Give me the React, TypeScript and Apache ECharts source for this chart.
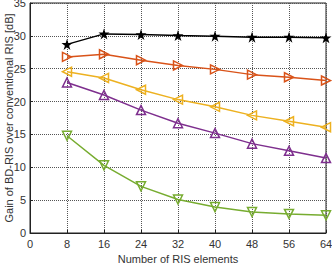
import React, { useEffect, useRef } from "react";
import * as echarts from "echarts";

const xTicks = [8, 16, 24, 32, 40, 48, 56, 64];
const starSeries = [28.7, 30.3, 30.2, 30.05, 29.95, 29.8, 29.8, 29.7];
const rightTriSeries = [26.8, 27.2, 26.3, 25.5, 24.9, 24.1, 23.7, 23.2];
const leftTriSeries = [24.55, 23.6, 21.8, 20.3, 19.2, 17.9, 17.0, 16.1];
const upTriSeries = [22.9, 21.0, 18.7, 16.7, 15.2, 13.6, 12.5, 11.4];
const downTriSeries = [14.8, 10.3, 7.1, 5.1, 3.95, 3.2, 2.9, 2.7];

const STAR = "path://M50,0 L61.8,35.5 L100,35.5 L69.1,57.4 L80.9,93.3 L50,71.3 L19.1,93.3 L30.9,57.4 L0,35.5 L38.2,35.5 Z";

const font = "Liberation Sans";

export default function App() {
  const ref = useRef<HTMLDivElement>(null);
  useEffect(() => {
    const chart = echarts.init(ref.current!, null, { renderer: "svg" });
    const mk = (
      name: string,
      vals: number[],
      color: string,
      symbol: string,
      rotate: number,
      filled: boolean,
      size: number
    ) => ({
      name,
      type: "line",
      data: xTicks.map((x, i) => [x, vals[i]]),
      symbol,
      symbolSize: size,
      symbolRotate: rotate,
      showAllSymbol: true,
      lineStyle: { color, width: 1.5 },
      itemStyle: {
        color: filled ? color : "rgba(255,255,255,0)",
        borderColor: color,
        borderWidth: filled ? 0 : 1.5,
      },
      z: 3,
    });
    chart.setOption({
      animation: false,
      grid: {
        left: 30,
        right: 6,
        top: 3,
        bottom: 33,
        show: true,
        borderColor: "#222",
        borderWidth: 1,
        containLabel: false,
        outerBoundsMode: "none",
      },
      xAxis: {
        type: "value",
        min: 0,
        max: 64,
        interval: 8,
        name: "Number of RIS elements",
        nameLocation: "middle",
        nameGap: 20,
        nameMoveOverlap: false,
        nameTextStyle: { fontFamily: font, fontSize: 11, color: "#333" },
        axisLine: { show: true, lineStyle: { color: "#222" } },
        axisTick: { show: true, inside: true, length: 3, lineStyle: { color: "#222" } },
        axisLabel: { fontFamily: font, fontSize: 11, color: "#333", margin: 5 },
        splitLine: { show: true, lineStyle: { color: "#555", type: [1, 1], width: 1 } },
      },
      yAxis: {
        type: "value",
        min: 0,
        max: 35,
        interval: 5,
        name: "Gain of BD-RIS over conventional RIS [dB]",
        nameLocation: "middle",
        nameGap: 16,
        nameMoveOverlap: false,
        nameTextStyle: { fontFamily: font, fontSize: 11, color: "#333" },
        axisLine: { show: true, lineStyle: { color: "#222" } },
        axisTick: { show: true, inside: true, length: 3, lineStyle: { color: "#222" } },
        axisLabel: { fontFamily: font, fontSize: 11, color: "#333", margin: 4 },
        splitLine: { show: true, lineStyle: { color: "#555", type: [1, 1], width: 1 } },
      },
      series: [
        mk("star", starSeries, "#000000", STAR, 0, true, 11),
        mk("right", rightTriSeries, "#D95319", "triangle", -90, false, 9),
        mk("left", leftTriSeries, "#EDB120", "triangle", 90, false, 9),
        mk("up", upTriSeries, "#7E2F8E", "triangle", 0, false, 9),
        mk("down", downTriSeries, "#77AC30", "triangle", 180, false, 9),
      ],
    });
    return () => chart.dispose();
  }, []);
  return (
    <div style={{ position: "fixed", left: 0, top: 0, width: 332, height: 266, background: "#fff" }}>
      <div ref={ref} style={{ width: 332, height: 266 }} />
    </div>
  );
}
